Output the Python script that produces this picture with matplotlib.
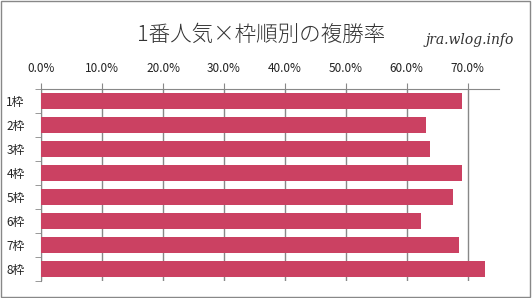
import matplotlib.pyplot as plt
import numpy as np

plt.rcParams['font.family'] = ['Noto Sans CJK JP', 'DejaVu Sans']

# 枠順ごとの複勝率（%）
labels = ['1枠', '2枠', '3枠', '4枠', '5枠', '6枠', '7枠', '8枠']
rates = [69.0, 63.2, 63.8, 69.0, 67.5, 62.4, 68.5, 72.9]
xticks = [0, 10, 20, 30, 40, 50, 60, 70]

bar_color = '#CB4162'
grid_color = '#888888'

fig = plt.figure(figsize=(5.32, 2.98), dpi=100)
ax = fig.add_axes([0.0776, 0.057, 0.86, 0.644])

y = np.arange(len(labels))
ax.barh(y, rates, height=0.65, color=bar_color, zorder=3)

ax.set_xlim(0, 75.1)
ax.set_ylim(len(labels) - 0.5, -0.5)

ax.xaxis.tick_top()
ax.set_xticks(xticks)
ax.set_xticklabels([f'{v:.1f}%' for v in xticks], fontsize=8.5, color='#222222')
ax.tick_params(axis='x', length=4, color=grid_color, pad=6)
ax.grid(axis='x', color=grid_color, linewidth=1, zorder=0)

ax.set_yticks(y)
ax.set_yticklabels(labels, fontsize=8.5, color='#222222')
ax.set_yticks(np.arange(len(labels) + 1) - 0.5, minor=True)
ax.tick_params(axis='y', which='major', length=0, pad=12)
ax.tick_params(axis='y', which='minor', length=4, color=grid_color)

for s in ['right', 'bottom']:
    ax.spines[s].set_visible(False)
for s in ['top', 'left']:
    ax.spines[s].set_color(grid_color)

fig.text(0.49, 0.883, '1番人気×枠順別の複勝率', ha='center', va='center',
         fontsize=15.5, color='#333333', fontweight='light')
fig.text(0.966, 0.865, 'jra.wlog.info', ha='right', va='center',
         fontsize=10, color='#333333', style='italic',
         family=['DejaVu Serif'])

# 外枠
fig.patches.append(plt.Rectangle((0.002, 0.003), 0.995, 0.994, transform=fig.transFigure,
                                 fill=False, edgecolor='#888888', linewidth=1))

fig.savefig('out.png', dpi=100)
